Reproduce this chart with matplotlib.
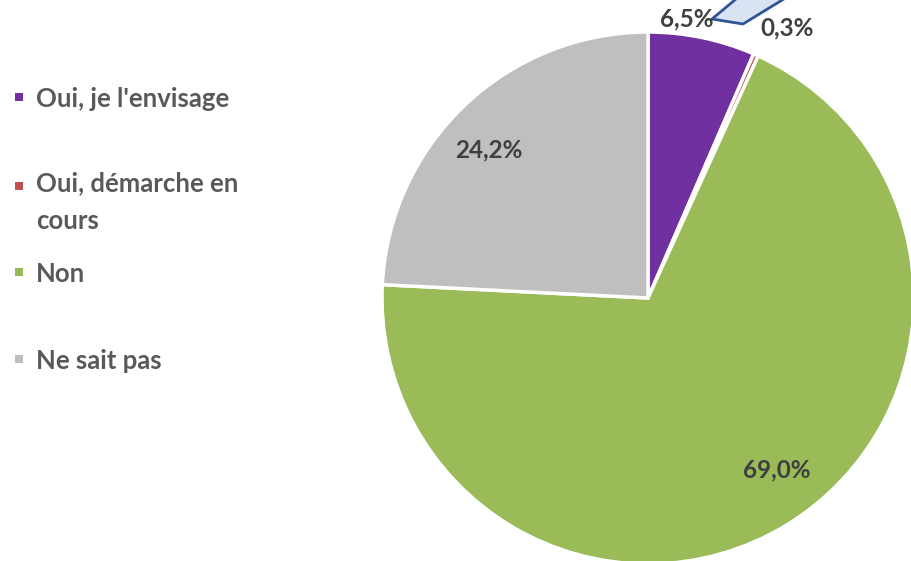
import matplotlib
matplotlib.use("Agg")
import matplotlib.pyplot as plt
from matplotlib.patches import Rectangle, Polygon

# data
labels = ["Oui, je l'envisage", "Oui, démarche en\ncours", "Non", "Ne sait pas"]
values = [6.5, 0.3, 69.0, 24.2]
colors = ["#7030A0", "#C0504D", "#9BBB59", "#BFBFBF"]
pct_text = ["6,5%", "0,3%", "69,0%", "24,2%"]

plt.rcParams['font.family'] = ['Lato', 'DejaVu Sans']

W, H = 912, 561
fig = plt.figure(figsize=(W / 100, H / 100), dpi=100)
ax = fig.add_axes([0, 0, 1, 1])
ax.axis('off')

cx, cy, r = 648, H - 298, 266
ax.pie(values, colors=colors, startangle=90, counterclock=False,
       center=(cx, cy), radius=r,
       wedgeprops=dict(edgecolor='white', linewidth=2.5))
ax.set_xlim(0, W)
ax.set_ylim(0, H)
ax.set_aspect('equal')

# callout box for the 0,3% label (cut off at top)
call = Polygon([(712, H - 19), (743, H - 24), (792, H + 6), (742, H + 6)],
               closed=True, facecolor='#DAE3F3', edgecolor='#2F5597', lw=2)
ax.add_patch(call)

# data labels
lab_pos = [(687, 19), (787, 28), (777, 470), (489, 150)]
for t, (x, y) in zip(pct_text, lab_pos):
    ax.text(x, H - y, t, ha='center', va='center', fontsize=17.5,
            fontweight='bold', color='#404040')

# legend (drawn by hand to keep Excel's spacing)
leg_y = [97, 186, 272, 359]
for lab, c, y in zip(labels, colors, leg_y):
    ax.add_patch(Rectangle((15, H - y - 4), 8, 8, facecolor=c, edgecolor='none'))
    if '\n' in lab:
        ax.text(36, H - y + 15, lab, ha='left', va='top', fontsize=18.5,
                fontweight='bold', color='#595959', linespacing=1.7)
    else:
        ax.text(36, H - y - 2, lab, ha='left', va='center', fontsize=18.5,
                fontweight='bold', color='#595959')

fig.savefig("out.png", dpi=100)
